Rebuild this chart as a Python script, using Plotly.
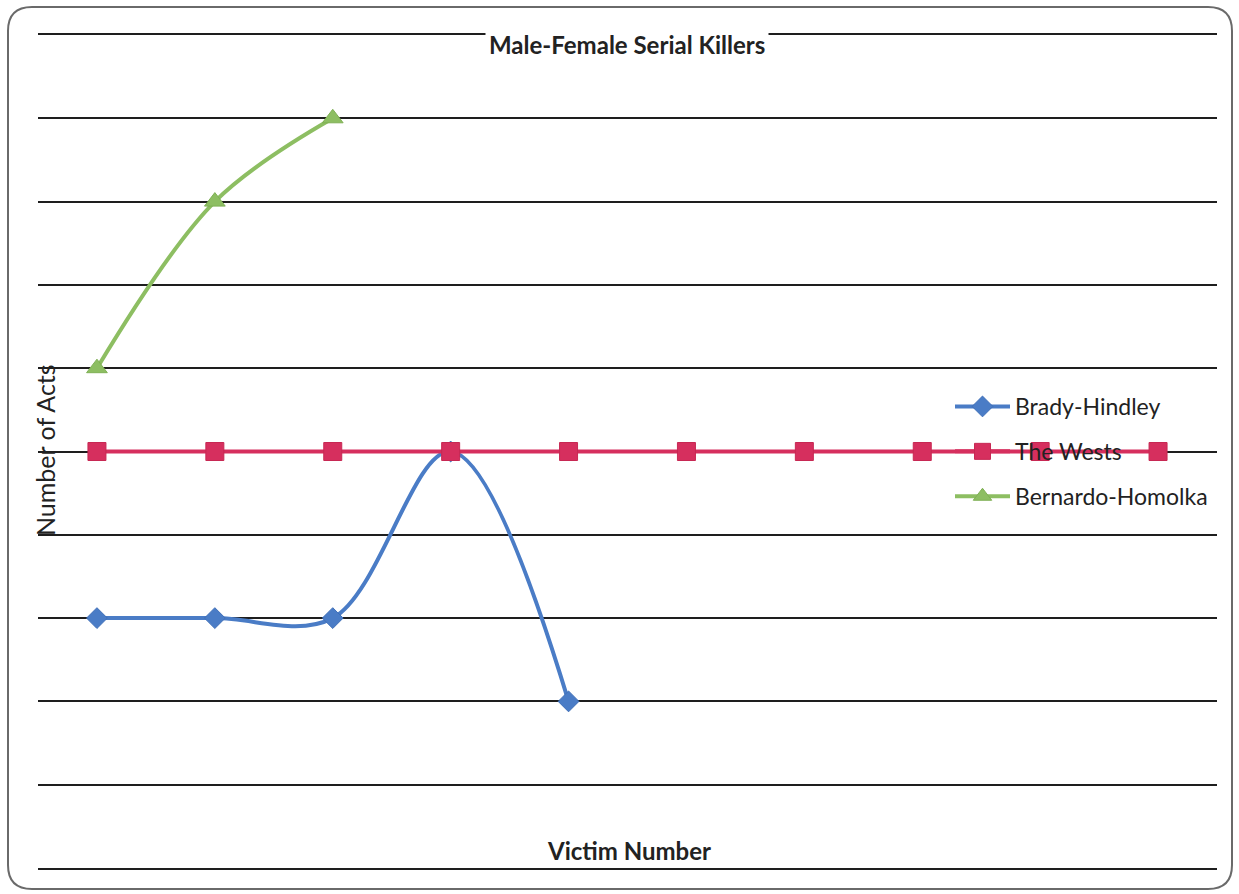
import plotly.graph_objects as go

# Victim number on the horizontal axis
victims = [1, 2, 3, 4, 5, 6, 7, 8, 9, 10]

# Number of acts per victim for each pair
brady_hindley = [3, 3, 3, 5, 2]
the_wests = [5, 5, 5, 5, 5, 5, 5, 5, 5, 5]
bernardo_homolka = [6, 8, 9]

series_names = ["Brady-Hindley", "The Wests", "Bernardo-Homolka"]

W, H = 1239, 894
L, R, T, B = 38, 22, 35, 26
PW, PH = W - L - R, H - T - B

BLUE = "#4A7CC6"
RED = "#D62F5E"
GREEN = "#8DBE62"
FONT = "Lato"


def px(x):
    return (x - L) / PW


def py(y):
    return (H - B - y) / PH


fig = go.Figure()

fig.add_trace(go.Scatter(
    x=victims[:len(brady_hindley)], y=brady_hindley, name=series_names[0],
    legendgroup="a", mode="lines+markers",
    line=dict(color=BLUE, width=4, shape="spline", smoothing=1.0),
    marker=dict(symbol="diamond", size=16, color=BLUE,
                line=dict(color="#3F6FB8", width=1)),
))
fig.add_trace(go.Scatter(
    x=victims[:len(the_wests)], y=the_wests, name=series_names[1],
    legendgroup="b", mode="lines+markers",
    line=dict(color=RED, width=4),
    marker=dict(symbol="square", size=18, color=RED,
                line=dict(color="#C72853", width=1)),
))
fig.add_trace(go.Scatter(
    x=victims[:len(bernardo_homolka)], y=bernardo_homolka, name=series_names[2],
    legendgroup="c", mode="lines+markers",
    line=dict(color=GREEN, width=4, shape="spline", smoothing=1.0),
    marker=dict(symbol="triangle-up", size=18, color=GREEN,
                line=dict(color="#7FB055", width=1)),
))

# Rounded chart frame
x0, x1, y0, y1, r = 8, 1232, 7, 889, 24
rx, ry = r / PW, r / PH
path = (
    f"M {px(x0)+rx},{py(y0)} L {px(x1)-rx},{py(y0)} "
    f"Q {px(x1)},{py(y0)} {px(x1)},{py(y0)-ry} "
    f"L {px(x1)},{py(y1)+ry} Q {px(x1)},{py(y1)} {px(x1)-rx},{py(y1)} "
    f"L {px(x0)+rx},{py(y1)} Q {px(x0)},{py(y1)} {px(x0)},{py(y1)+ry} "
    f"L {px(x0)},{py(y0)-ry} Q {px(x0)},{py(y0)} {px(x0)+rx},{py(y0)} Z"
)

GRID = "#1e1e1e"

fig.update_layout(
    width=W, height=H,
    margin=dict(l=L, r=R, t=T, b=B),
    paper_bgcolor="white", plot_bgcolor="white",
    showlegend=True,
    legend=dict(
        x=px(950), y=py(385), xanchor="left", yanchor="top",
        bgcolor="rgba(0,0,0,0)", borderwidth=0,
        font=dict(family=FONT, size=23, color="#222"),
        itemwidth=55, tracegroupgap=12,
    ),
    xaxis=dict(range=[0.5, 10.5], showgrid=False, zeroline=False,
               showticklabels=False, ticks="",
               showline=True, mirror=True, linecolor=GRID, linewidth=2),
    yaxis=dict(range=[0, 10], dtick=1, showgrid=True, gridcolor=GRID,
               gridwidth=2, zeroline=False, showticklabels=False, ticks="",
               showline=False),
    shapes=[dict(type="path", path=path, xref="paper", yref="paper",
                 line=dict(color="#6a6a6a", width=2), layer="below")],
    annotations=[
        dict(text="<b>Male-Female Serial Killers</b>", xref="paper", yref="paper",
             x=px(627), y=py(44), xanchor="center", yanchor="middle",
             showarrow=False, bgcolor="white", borderpad=3,
             font=dict(family=FONT, size=24, color="#222")),
        dict(text="Number of Acts", xref="paper", yref="paper",
             x=px(45), y=py(450), xanchor="center", yanchor="middle",
             textangle=-90, showarrow=False,
             font=dict(family=FONT, size=25, color="#222")),
        dict(text="<b>Victim Number</b>", xref="paper", yref="paper",
             x=px(629), y=py(850), xanchor="center", yanchor="middle",
             showarrow=False,
             font=dict(family=FONT, size=24, color="#222")),
    ],
)

fig.write_html("out.html")
